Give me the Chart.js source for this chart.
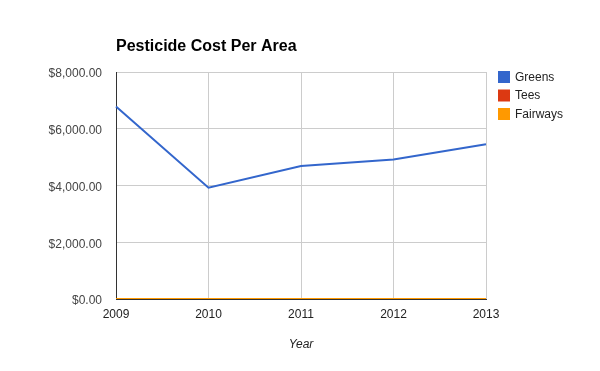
<!DOCTYPE html>
<html>
<head>
<meta charset="utf-8">
<title>Pesticide Cost Per Area</title>
<script src="https://cdn.jsdelivr.net/npm/chart.js@4"></script>
<style>
  html, body { margin: 0; padding: 0; background: #fff; }
  canvas { display: block; }
</style>
</head>
<body>
<canvas id="costChart" width="600" height="371"></canvas>
<script>
// data
var years = ['2009', '2010', '2011', '2012', '2013'];
var greens = [6780, 3920, 4690, 4920, 5450];
var tees = [0, 0, 0, 0, 0];
var fairways = [0, 0, 0, 0, 0];
var yTicks = [0, 2000, 4000, 6000, 8000];

var seriesNames = ['Greens', 'Tees', 'Fairways'];
var seriesColors = ['#3366cc', '#dc3912', '#ff9900'];
var FONT = '"Liberation Sans", Arial, sans-serif';

function money(v) {
	return '$' + Number(v).toLocaleString('en-US', { minimumFractionDigits: 2, maximumFractionDigits: 2 });
}

// title + legend, drawn the google-charts way
var decorations = {
	id: 'decorations',
	afterDraw: function (chart) {
		var c = chart.ctx, area = chart.chartArea;
		c.save();
		c.fillStyle = '#000';
		c.font = 'bold 16px ' + FONT;
		c.textAlign = 'left';
		c.textBaseline = 'alphabetic';
		c.fillText('Pesticide Cost Per Area', area.left, 51);

		c.font = '12px ' + FONT;
		c.textBaseline = 'middle';
		for (var i = 0; i < seriesNames.length; i++) {
			var y = 71 + i * 18.5;
			c.fillStyle = seriesColors[i];
			c.fillRect(498, y, 12, 12);
			c.fillStyle = '#222';
			c.fillText(seriesNames[i], 515, y + 6.5);
		}
		c.restore();
	}
};

var ctx = document.getElementById('costChart');
var myChart = new Chart(ctx, {
	type: 'line',
	data: {
		labels: years,
		datasets: [
			{ label: seriesNames[0], data: greens, borderColor: seriesColors[0], order: 0 },
			{ label: seriesNames[1], data: tees, borderColor: seriesColors[1], order: 2 },
			{ label: seriesNames[2], data: fairways, borderColor: seriesColors[2], order: 1 }
		]
	},
	options: {
		responsive: false,
		animation: false,
		layout: { padding: { top: 72, right: 114, bottom: 0, left: 0 } },
		elements: {
			line: { borderWidth: 2, tension: 0, fill: false },
			point: { radius: 0, hoverRadius: 0 }
		},
		plugins: {
			legend: { display: false },
			title: { display: false },
			tooltip: { enabled: false }
		},
		scales: {
			x: {
				offset: false,
				grid: { color: '#cccccc', drawTicks: false },
				border: { color: '#333333' },
				ticks: { padding: 8, color: '#222', font: { family: FONT, size: 12 } },
				title: {
					display: true,
					text: 'Year',
					color: '#222',
					font: { family: FONT, size: 12, style: 'italic' },
					padding: { top: 0, bottom: 19 }
				},
				afterFit: function (s) {
					s.height = 72;
					s.paddingLeft = 0;
					s.paddingRight = 0;
				}
			},
			y: {
				min: 0,
				max: 8000,
				grid: { color: '#cccccc', drawTicks: false },
				border: { color: '#333333' },
				afterBuildTicks: function (s) {
					s.ticks = yTicks.map(function (v) { return { value: v }; });
				},
				ticks: {
					padding: 14,
					labelOffset: 2,
					color: '#444',
					font: { family: FONT, size: 12 },
					callback: function (v) { return money(v); }
				},
				afterFit: function (s) {
					s.width = 116;
					s.paddingTop = 0;
					s.paddingBottom = 0;
				}
			}
		}
	},
	plugins: [decorations]
});
</script>
</body>
</html>
